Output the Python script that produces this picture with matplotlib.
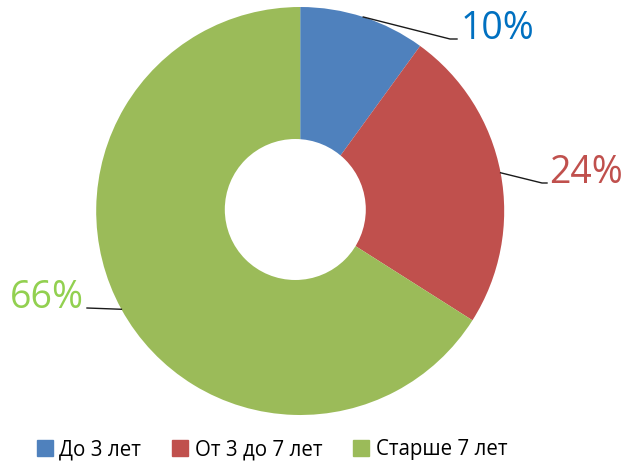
import numpy as np
import matplotlib
matplotlib.use("Agg")
import matplotlib.pyplot as plt
from matplotlib.lines import Line2D
from matplotlib.patches import Circle

plt.rcParams['font.family'] = ['Open Sans', 'DejaVu Sans']

categories = ["До 3 лет", "От 3 до 7 лет", "Старше 7 лет"]
values = [10, 24, 66]
labels = ["10%", "24%", "66%"]
colors = ["#4F81BD", "#C0504D", "#9BBB59"]
label_colors = ["#0070C0", "#C0504D", "#92D050"]

W, H = 627, 466
fig = plt.figure(figsize=(W / 100, H / 100), dpi=100)
cx, cy, R = 300.2, 211.0, 204.0
ax = fig.add_axes([(cx - R) / W, (H - cy - R) / H, 2 * R / W, 2 * R / H])
wedges, _ = ax.pie(values, colors=colors, startangle=90, counterclock=False,
                   radius=1.0, wedgeprops=dict(linewidth=0))
ax.set_xlim(-1, 1)
ax.set_ylim(-1, 1)
ax.set_aspect('equal')
ax.axis('off')

# donut hole (slightly offset as in the reference rendering)
hole = Circle(((295.3 - cx) / R, (cy - 209.5) / R), 70.5 / R, facecolor='white',
              edgecolor='none', zorder=5)
ax.add_patch(hole)

# leader lines and labels (layout in px)
layout = [
    dict(elbow=(450, 39), end=457, text=(461, 39), ha='left'),
    dict(elbow=(542, 183), end=547, text=(549, 183), ha='left'),
    dict(elbow=(87, 308), end=87, text=(84, 308), ha='right'),
]

def to_data(px, py):
    return (px - cx) / R, (cy - py) / R

theta = 90.0
for v, lab, lc, lay in zip(values, labels, label_colors, layout):
    span = 360.0 * v / sum(values)
    mid = np.deg2rad(theta - span / 2)
    theta -= span
    x0, y0 = np.cos(mid), np.sin(mid)
    ex, ey = to_data(*lay['elbow'])
    fx, _ = to_data(lay['end'], lay['elbow'][1])
    ax.plot([x0, ex, fx], [y0, ey, ey], color='#1a1a1a', lw=1.0,
            clip_on=False, zorder=6)
    tx, ty = to_data(*lay['text'])
    ax.text(tx, ty, lab, color=lc, fontsize=27.0, ha=lay['ha'], va='baseline',
            clip_on=False, zorder=7)

handles = [Line2D([], [], marker='s', linestyle='none', markersize=11,
                  markerfacecolor=c, markeredgecolor=c) for c in colors]
fig.legend(handles, categories, loc='center', bbox_to_anchor=(272 / W, 1 - 450 / H),
           ncol=3, frameon=False, fontsize=14.8, handlelength=0.8,
           handletextpad=0.3, columnspacing=1.5, borderpad=0)

fig.savefig("out.png", dpi=100, facecolor='white')
